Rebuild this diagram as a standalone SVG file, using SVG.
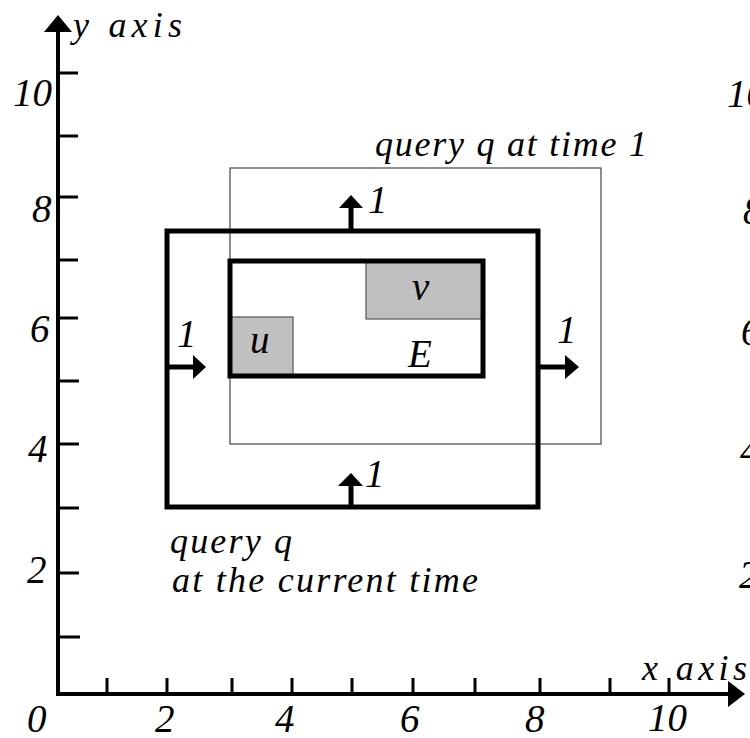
<svg xmlns="http://www.w3.org/2000/svg" width="750" height="738" viewBox="0 0 750 738">
<rect width="750" height="738" fill="#fff"/>
<g id="axes">
<g stroke="#000" stroke-width="4" fill="none">
<line x1="58" y1="696" x2="58" y2="30"/>
<line x1="56" y1="694" x2="730" y2="694"/>
</g>
<polygon fill="#000" points="58,15 44,32 72,32"/>
<polygon fill="#000" points="745,694 728,681 728,707"/>
<g stroke="#000" stroke-width="3">
<line x1="58" y1="73" x2="78" y2="73"/>
<line x1="58" y1="136" x2="78" y2="136"/>
<line x1="58" y1="197" x2="78" y2="197"/>
<line x1="58" y1="260" x2="78" y2="260"/>
<line x1="58" y1="318" x2="78" y2="318"/>
<line x1="58" y1="381" x2="79" y2="381"/>
<line x1="58" y1="444" x2="79" y2="444"/>
<line x1="58" y1="508" x2="79" y2="508"/>
<line x1="58" y1="573" x2="79" y2="573"/>
<line x1="58" y1="637" x2="80" y2="637"/>
<line x1="107" y1="694" x2="107" y2="678"/>
<line x1="167" y1="694" x2="167" y2="678"/>
<line x1="232" y1="694" x2="232" y2="678"/>
<line x1="292" y1="694" x2="292" y2="678"/>
<line x1="352" y1="694" x2="352" y2="678"/>
<line x1="413" y1="694" x2="413" y2="678"/>
<line x1="475" y1="694" x2="475" y2="678"/>
<line x1="540" y1="694" x2="540" y2="678"/>
<line x1="610" y1="694" x2="610" y2="678"/>
<line x1="669" y1="694" x2="669" y2="678"/>
</g>
<text x="73" y="37" font-family="Liberation Serif" font-style="italic" font-size="36" textLength="109" lengthAdjust="spacing">y axis</text>
<text x="642" y="680" font-family="Liberation Serif" font-style="italic" font-size="36" textLength="105" lengthAdjust="spacing">x axis</text>
<text x="13" y="106" font-family="Liberation Serif" font-style="italic" font-size="39">10</text>
<text x="32" y="222" font-family="Liberation Serif" font-style="italic" font-size="39">8</text>
<text x="30" y="342" font-family="Liberation Serif" font-style="italic" font-size="39">6</text>
<text x="28" y="462" font-family="Liberation Serif" font-style="italic" font-size="39">4</text>
<text x="27" y="583" font-family="Liberation Serif" font-style="italic" font-size="39">2</text>
<text x="27" y="732" font-family="Liberation Serif" font-style="italic" font-size="39">0</text>
<text x="155" y="732" font-family="Liberation Serif" font-style="italic" font-size="39">2</text>
<text x="275" y="732" font-family="Liberation Serif" font-style="italic" font-size="39">4</text>
<text x="400" y="732" font-family="Liberation Serif" font-style="italic" font-size="39">6</text>
<text x="525" y="732" font-family="Liberation Serif" font-style="italic" font-size="39">8</text>
<text x="648" y="731" font-family="Liberation Serif" font-style="italic" font-size="39">10</text>
<text x="727" y="107" font-family="Liberation Serif" font-style="italic" font-size="39">10</text>
<text x="743" y="224" font-family="Liberation Serif" font-style="italic" font-size="39">8</text>
<text x="741" y="345" font-family="Liberation Serif" font-style="italic" font-size="39">6</text>
<text x="740" y="464" font-family="Liberation Serif" font-style="italic" font-size="39">4</text>
<text x="739" y="588" font-family="Liberation Serif" font-style="italic" font-size="39">2</text>
</g>
<g id="query-time1">
<rect fill="none" stroke="#444" stroke-width="1.2" x="230" y="168" width="371" height="276"/>
<text x="375" y="156" font-family="Liberation Serif" font-style="italic" font-size="36" textLength="272" lengthAdjust="spacing">query q at time 1</text>
</g>
<g id="object-v">
<rect fill="#c0c0c0" stroke="#555" stroke-width="1.2" x="366" y="261" width="117" height="58"/>
<text x="412" y="300" font-family="Liberation Serif" font-style="italic" font-size="39">v</text>
</g>
<g id="object-u">
<rect fill="#c0c0c0" stroke="#555" stroke-width="1.2" x="230" y="317" width="63" height="59"/>
<text x="250" y="353" font-family="Liberation Serif" font-style="italic" font-size="39">u</text>
</g>
<g id="region-E">
<rect fill="none" stroke="#000" stroke-width="5" x="230" y="261" width="253" height="115"/>
<text x="408" y="367" font-family="Liberation Serif" font-style="italic" font-size="39">E</text>
</g>
<g id="query-current">
<rect fill="none" stroke="#000" stroke-width="5" x="167" y="231" width="371" height="276"/>
<text x="170" y="553" font-family="Liberation Serif" font-style="italic" font-size="36" textLength="122" lengthAdjust="spacing">query q</text>
<text x="172" y="592" font-family="Liberation Serif" font-style="italic" font-size="36" textLength="306" lengthAdjust="spacing">at the current time</text>
</g>
<g id="connectors">
<g stroke="#000" stroke-width="5">
<line x1="351" y1="231" x2="351" y2="205"/>
<line x1="351" y1="507" x2="351" y2="483"/>
<line x1="167" y1="367" x2="195" y2="367"/>
<line x1="538" y1="367" x2="568" y2="367"/>
</g>
<g fill="#000">
<polygon points="351,195 339,208 363,208"/>
<polygon points="351,473 338,486 363,486"/>
<polygon points="206,367 193,355 193,379"/>
<polygon points="579,367 565,355 565,379"/>
</g>
<text x="368" y="213" font-family="Liberation Serif" font-style="italic" font-size="39">1</text>
<text x="365" y="487" font-family="Liberation Serif" font-style="italic" font-size="39">1</text>
<text x="177" y="347" font-family="Liberation Serif" font-style="italic" font-size="39">1</text>
<text x="557" y="343" font-family="Liberation Serif" font-style="italic" font-size="39">1</text>
</g>
</svg>
